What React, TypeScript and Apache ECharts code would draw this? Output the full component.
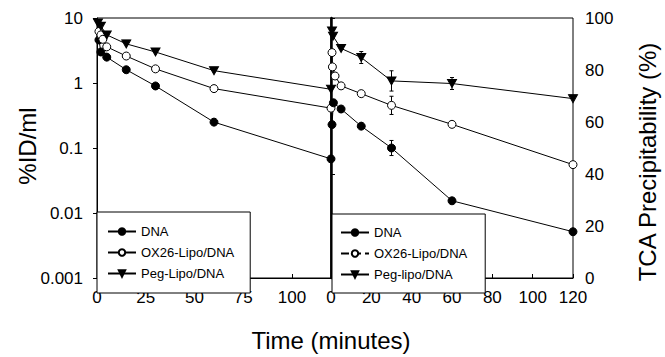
import React, { useEffect, useRef } from "react";
import * as echarts from "echarts";

// ---- Left panel (%ID/ml, log scale) ----
const dnaLeftT = [1, 2, 5, 15, 30, 60, 120];
const dnaLeftV = [4.6, 3.0, 2.5, 1.6, 0.9, 0.25, 0.068];
const oxLeftT = [1, 2, 3, 5, 15, 30, 60, 120];
const oxLeftV = [6.2, 5.5, 4.7, 3.6, 2.6, 1.65, 0.82, 0.41];
const pegLeftT = [0.5, 2, 5, 15, 30, 60, 120];
const pegLeftV = [8.4, 7.5, 5.5, 4.0, 3.0, 1.55, 0.8];

// ---- Right panel (TCA precipitability %, linear) ----
const dnaRightT = [0.5, 1.2, 5, 15, 30, 60, 120];
const dnaRightV = [59, 67.4, 65, 58.4, 50, 29.7, 17.8];
const dnaRightErr = [0, 0, 0, 0, 2.9, 0, 0];
const oxRightT = [0.5, 0.7, 2, 5, 15, 30, 60, 120];
const oxRightV = [86.7, 81.2, 77.7, 73.9, 70.9, 66.4, 59.1, 43.6];
const oxRightErr = [0, 0, 0, 0, 0, 3.5, 0, 0];
const pegRightT = [0.5, 1, 5, 15, 30, 60, 120];
const pegRightV = [95, 93, 88.3, 84.8, 75.8, 74.8, 69];
const pegRightErr = [0, 0, 0, 2.3, 3.9, 2.3, 0];

const leftXTicks = [0, 25, 50, 75, 100];
const leftYLabels = ["0.001", "0.01", "0.1", "1", "10"];
const rightXTicks = [0, 20, 40, 60, 80, 100, 120];
const rightYTicks = [0, 20, 40, 60, 80, 100];

const FONT = "'Liberation Sans', Arial, Helvetica, sans-serif";
const TRI = "path://M0,0L10,0L5,9Z";

const zip = (t: number[], v: number[]) => t.map((x, i) => [x, v[i]]);
const zipErr = (t: number[], v: number[], e: number[]) =>
  t.map((x, i) => [x, v[i], e[i]]).filter((d) => d[2] > 0);

export default function App() {
  const ref = useRef<HTMLDivElement>(null);
  useEffect(() => {
    if (!ref.current) return;
    const chart = echarts.init(ref.current, undefined, { renderer: "svg" });

    const lineBase = {
      type: "line",
      lineStyle: { color: "#000", width: 1 },
      symbolSize: 8,
      z: 3,
    };
    const dnaStyle = { symbol: "circle", itemStyle: { color: "#000", borderColor: "#000", borderWidth: 1 } };
    const oxStyle = { symbol: "circle", itemStyle: { color: "#fff", borderColor: "#000", borderWidth: 1 } };
    const pegStyle = { symbol: TRI, symbolSize: [9, 8], itemStyle: { color: "#000", borderColor: "#000", borderWidth: 1 } };

    const errRender = (params: any, api: any) => {
      const x = api.value(0);
      const y = api.value(1);
      const e = api.value(2);
      const top = api.coord([x, y + e]);
      const bot = api.coord([x, y - e]);
      const st = { stroke: "#000", lineWidth: 1 };
      return {
        type: "group",
        children: [
          { type: "line", shape: { x1: top[0], y1: top[1], x2: bot[0], y2: bot[1] }, style: st },
          { type: "line", shape: { x1: top[0] - 2, y1: top[1], x2: top[0] + 2, y2: top[1] }, style: st },
          { type: "line", shape: { x1: bot[0] - 2, y1: bot[1], x2: bot[0] + 2, y2: bot[1] }, style: st },
        ],
      };
    };

    const tickLabel = { color: "#000", fontSize: 17, fontFamily: FONT };

    const legendBase = {
      orient: "vertical",
      selectedMode: false,
      itemWidth: 28,
      itemHeight: 8,
      itemGap: 8,
      borderColor: "#000",
      borderWidth: 1,
      backgroundColor: "#fff",
      textStyle: { color: "#000", fontSize: 13, fontFamily: FONT },
      z: 10,
    };

    chart.setOption({
      animation: false,
      backgroundColor: "#fff",
      grid: [
        { left: 97, right: 334, top: 18, bottom: 79, show: true, borderColor: "#000", borderWidth: 1, backgroundColor: "transparent" },
        { left: 331, right: 92, top: 18, bottom: 79, show: true, borderColor: "#000", borderWidth: 1, backgroundColor: "transparent" },
      ],
      xAxis: [
        {
          type: "value", gridIndex: 0, min: 0, max: 120, interval: 25,
          axisLine: { show: true, lineStyle: { color: "#000", width: 1 } },
          axisTick: { show: true, inside: true, length: 4, lineStyle: { color: "#000" } },
          axisLabel: {
            ...tickLabel, margin: 11, showMaxLabel: false,
            formatter: (v: number) => (leftXTicks.includes(v) ? String(v) : ""),
          },
          splitLine: { show: false },
        },
        {
          type: "value", gridIndex: 1, min: 0, max: 120, interval: 20,
          axisLine: { show: true, lineStyle: { color: "#000", width: 1 } },
          axisTick: { show: true, inside: true, length: 4, lineStyle: { color: "#000" } },
          axisLabel: {
            ...tickLabel, margin: 11,
            formatter: (v: number) => (rightXTicks.includes(v) ? String(v) : ""),
          },
          splitLine: { show: false },
        },
      ],
      yAxis: [
        {
          type: "log", logBase: 10, gridIndex: 0, min: 0.001, max: 10,
          axisLine: { show: true, lineStyle: { color: "#000", width: 1 } },
          axisTick: { show: true, length: 4, lineStyle: { color: "#000" } },
          minorTick: { show: false },
          axisLabel: {
            ...tickLabel, margin: 14,
            formatter: (v: number) => leftYLabels[Math.round(Math.log10(v)) + 3] ?? "",
          },
          splitLine: { show: false },
        },
        {
          type: "value", gridIndex: 1, min: 0, max: 100, interval: 20, position: "right",
          axisLine: { show: true, lineStyle: { color: "#000", width: 1 } },
          axisTick: { show: true, length: 4, lineStyle: { color: "#000" } },
          axisLabel: {
            ...tickLabel, margin: 12,
            formatter: (v: number) => (rightYTicks.includes(v) ? String(v) : ""),
          },
          splitLine: { show: false },
        },
        {
          type: "value", gridIndex: 1, min: 0, max: 100, position: "left",
          axisLine: { show: true, lineStyle: { color: "#000", width: 2.5 } },
          axisTick: { show: false },
          axisLabel: { show: false },
          splitLine: { show: false },
        },
      ],
      legend: [
        {
          ...legendBase,
          left: 97, top: 212,
          padding: [13, 16, 13, 10],
          data: [
            { name: "DNA" },
            { name: "OX26-Lipo/DNA", lineStyle: { color: "#000" } },
            { name: "Peg-Lipo/DNA" },
          ],
        },
        {
          ...legendBase,
          left: 332, top: 214,
          padding: [12, 18, 12, 8],
          data: [
            { name: "DNA" },
            { name: "OX26-Lipo/DNA", lineStyle: { color: "#000", type: "dashed" } },
            { name: "Peg-lipo/DNA" },
          ],
        },
      ],
      series: [
        { ...lineBase, ...dnaStyle, name: "DNA", xAxisIndex: 0, yAxisIndex: 0, data: zip(dnaLeftT, dnaLeftV) },
        { ...lineBase, ...oxStyle, name: "OX26-Lipo/DNA", xAxisIndex: 0, yAxisIndex: 0, data: zip(oxLeftT, oxLeftV) },
        { ...lineBase, ...pegStyle, name: "Peg-Lipo/DNA", xAxisIndex: 0, yAxisIndex: 0, data: zip(pegLeftT, pegLeftV) },
        { ...lineBase, ...dnaStyle, name: "DNA", xAxisIndex: 1, yAxisIndex: 1, data: zip(dnaRightT, dnaRightV) },
        { ...lineBase, ...oxStyle, name: "OX26-Lipo/DNA", xAxisIndex: 1, yAxisIndex: 1, data: zip(oxRightT, oxRightV) },
        { ...lineBase, ...pegStyle, name: "Peg-lipo/DNA", xAxisIndex: 1, yAxisIndex: 1, data: zip(pegRightT, pegRightV) },
        { type: "custom", name: "errDNA", xAxisIndex: 1, yAxisIndex: 1, renderItem: errRender, data: zipErr(dnaRightT, dnaRightV, dnaRightErr), z: 2 },
        { type: "custom", name: "errOX", xAxisIndex: 1, yAxisIndex: 1, renderItem: errRender, data: zipErr(oxRightT, oxRightV, oxRightErr), z: 2 },
        { type: "custom", name: "errPeg", xAxisIndex: 1, yAxisIndex: 1, renderItem: errRender, data: zipErr(pegRightT, pegRightV, pegRightErr), z: 2 },
      ],
      graphic: [
        {
          type: "text", x: 27, y: 146, rotation: Math.PI / 2,
          style: { text: "%ID/ml", fill: "#000", fontSize: 24, fontFamily: FONT, textAlign: "center", textVerticalAlign: "middle" },
        },
        {
          type: "text", x: 647, y: 162, rotation: Math.PI / 2,
          style: { text: "TCA Precipitability (%)", fill: "#000", fontSize: 24, fontFamily: FONT, textAlign: "center", textVerticalAlign: "middle" },
        },
        {
          type: "text", x: 331, y: 340,
          style: { text: "Time (minutes)", fill: "#000", fontSize: 24, fontFamily: FONT, textAlign: "center", textVerticalAlign: "middle" },
        },
      ],
    });
    return () => chart.dispose();
  }, []);
  return <div ref={ref} style={{ width: 665, height: 357, position: "absolute", left: 0, top: 0 }} />;
}
